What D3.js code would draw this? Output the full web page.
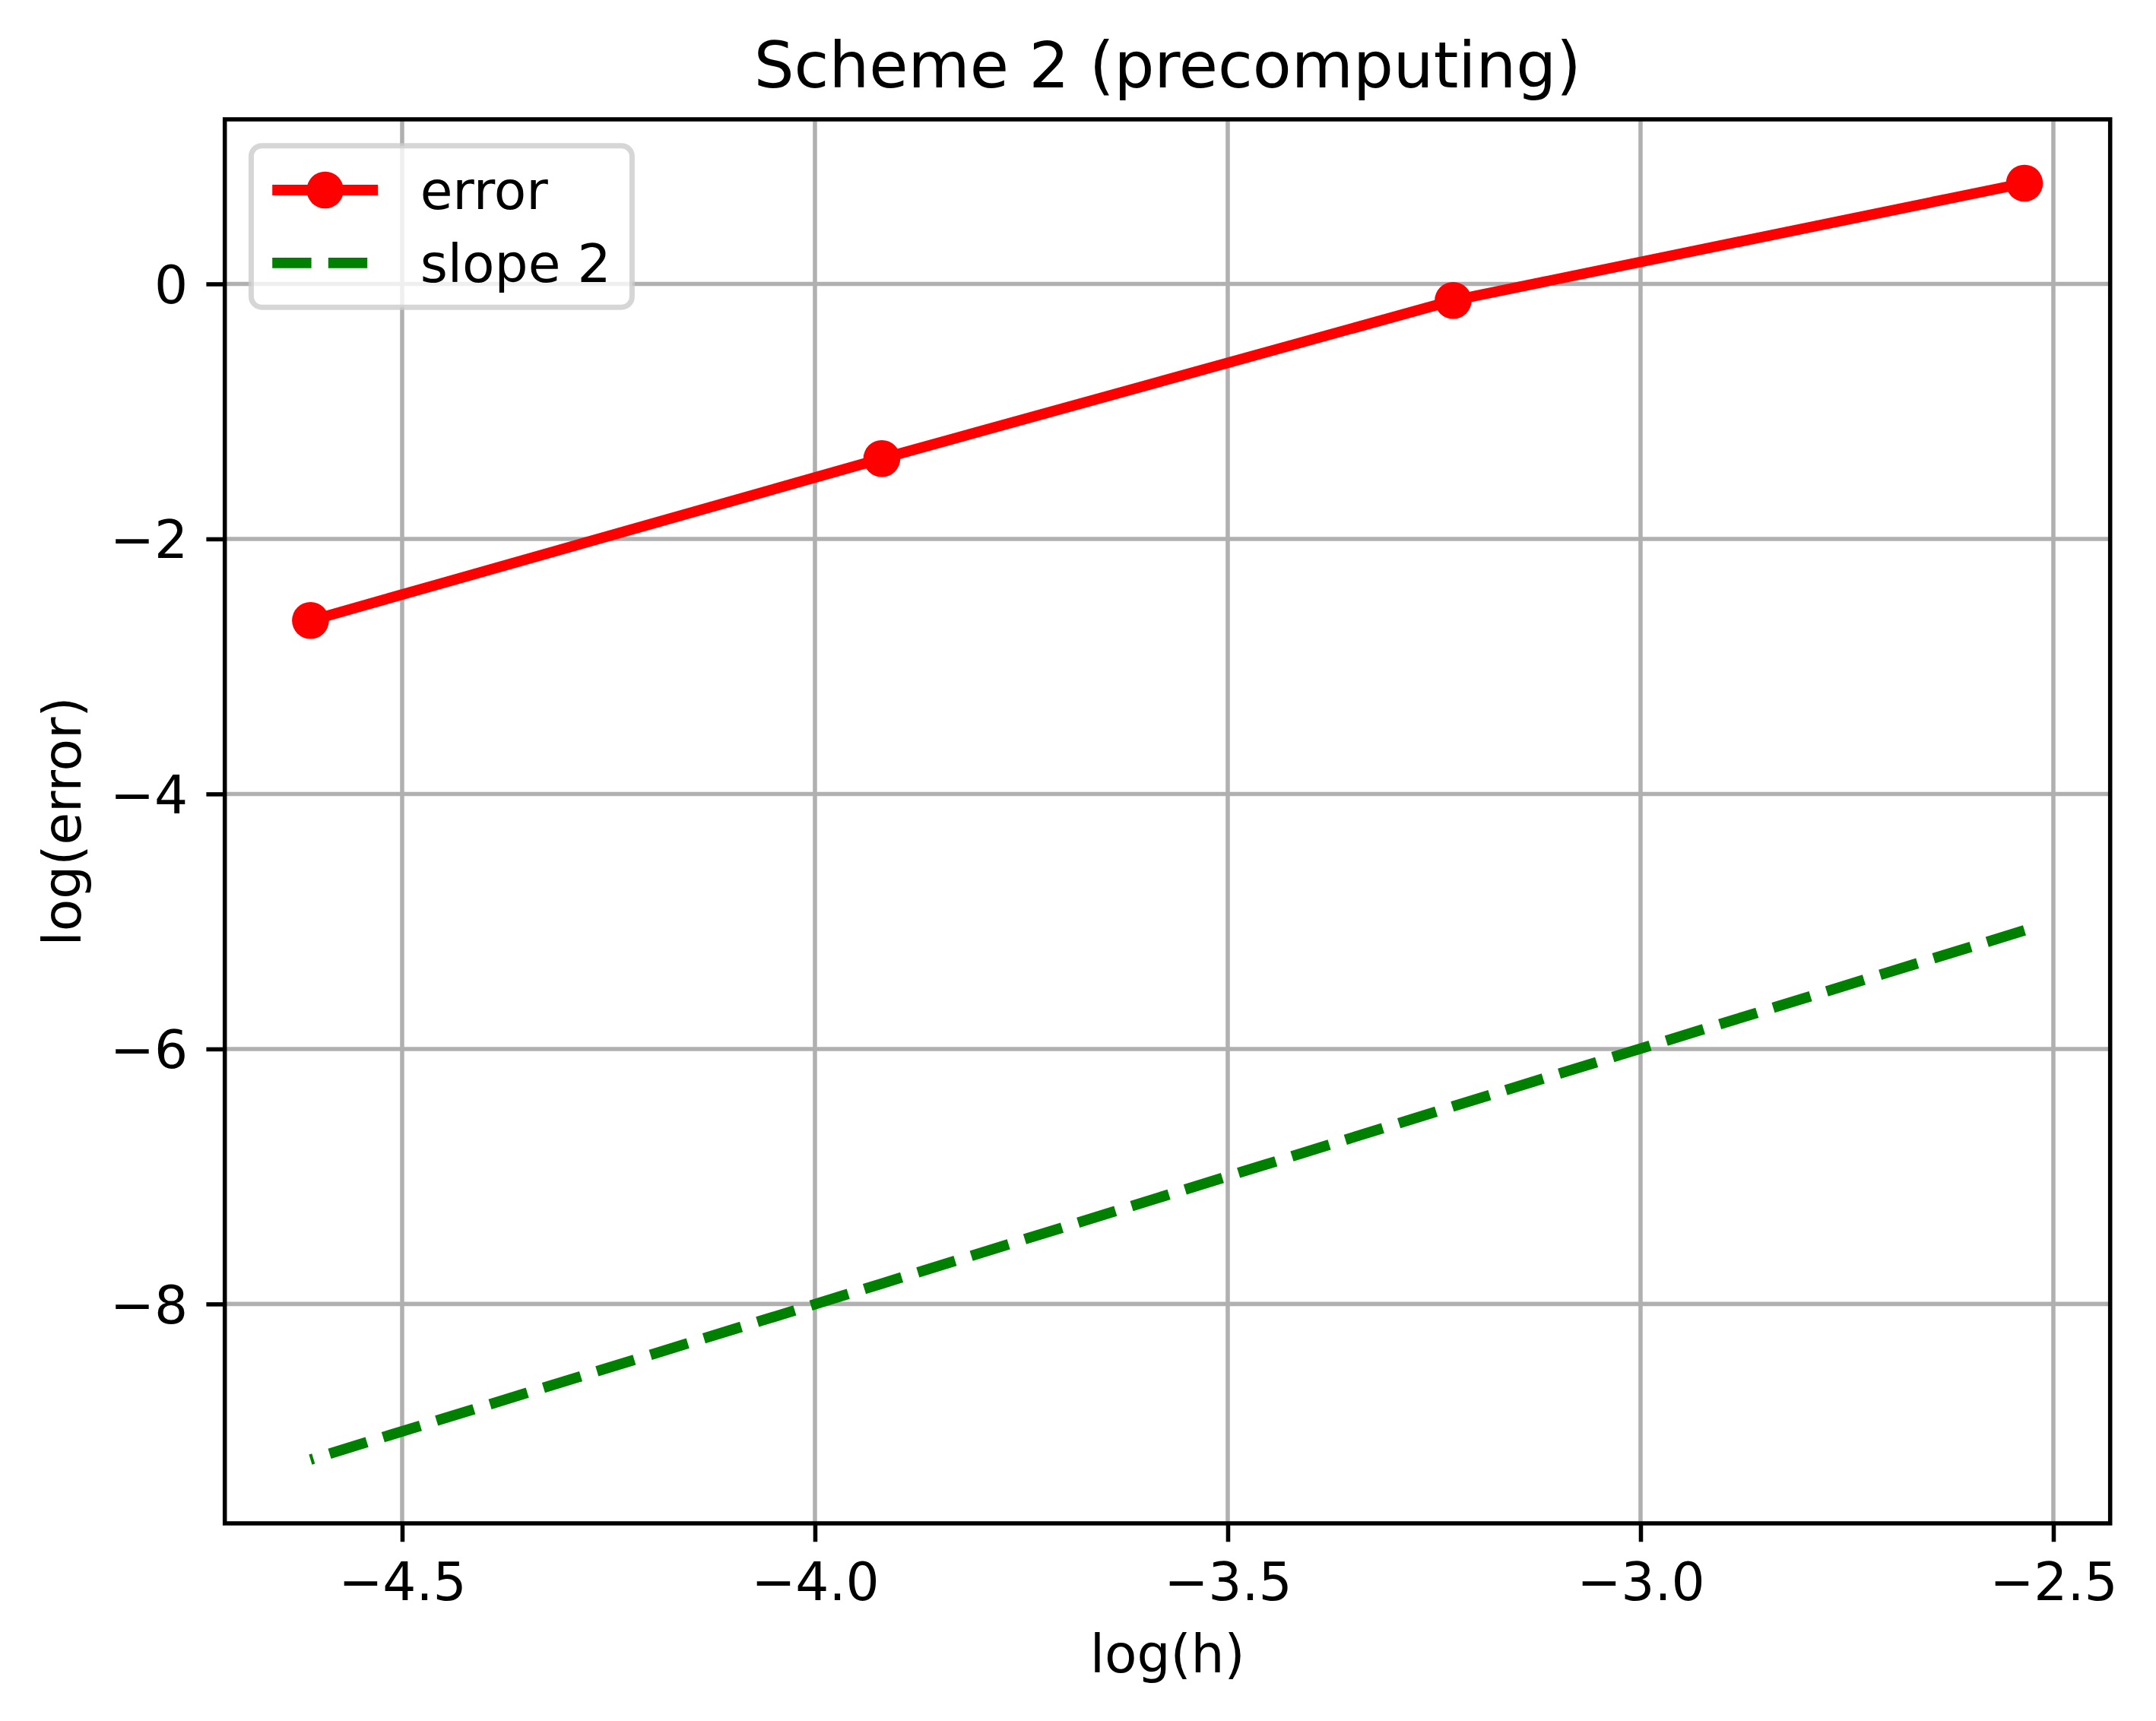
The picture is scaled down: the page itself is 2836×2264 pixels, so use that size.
<!DOCTYPE html>
<html>
<head>
<meta charset="utf-8">
<script src="https://cdn.jsdelivr.net/npm/d3@7"></script>
<style>
  html, body { margin: 0; padding: 0; background: #ffffff; }
  svg { display: block; font-family: "DejaVu Sans", sans-serif; }
</style>
</head>
<body>
<div id="chart"></div>
<script>
// values (h halves each step)
const logH = [-2.535, -3.227, -3.919, -4.611];
const logError = [0.79, -0.13, -1.37, -2.64];
const slopeTwo = [-5.07, -6.45, -7.84, -9.22];
const xTicks = [-4.5, -4.0, -3.5, -3.0, -2.5];
const yTicks = [-8, -6, -4, -2, 0];
const seriesNames = ["error", "slope 2"];

const width = 2836, height = 2264;
const margin = { left: 295.7, right: 2836 - 2775.7, top: 157, bottom: 2264 - 2004 };
const pt = 500 / 72; // figure was 500 dpi
const fontSize = 10 * pt;

const svg = d3.select("#chart")
    .append("svg")
    .attr("width", width)
    .attr("height", height);

// matplotlib style 5% padding on data range
function padded(values) {
    const [lo, hi] = d3.extent(values);
    const m = (hi - lo) * 0.05;
    return [lo - m, hi + m];
}

const x = d3.scaleLinear()
    .domain(padded(logH))
    .range([margin.left, width - margin.right]);
const y = d3.scaleLinear()
    .domain(padded(logError.concat(slopeTwo)))
    .range([height - margin.bottom, margin.top]);

const fmtX = d => d3.format(".1f")(d).replace("-", "\u2212");
const fmtY = d => d3.format("d")(d).replace("-", "\u2212");

// grid
const grid = svg.append("g").attr("stroke", "#b0b0b0").attr("stroke-width", 0.8 * pt);
grid.selectAll(".gx").data(xTicks).join("line")
    .attr("x1", d => x(d)).attr("x2", d => x(d))
    .attr("y1", y.range()[0]).attr("y2", y.range()[1]);
grid.selectAll(".gy").data(yTicks).join("line")
    .attr("y1", d => y(d)).attr("y2", d => y(d))
    .attr("x1", x.range()[0]).attr("x2", x.range()[1]);

// axes
const xAxis = d3.axisBottom(x).tickValues(xTicks).tickFormat(fmtX)
    .tickSize(3.5 * pt).tickPadding(3.5 * pt).tickSizeOuter(0);
const yAxis = d3.axisLeft(y).tickValues(yTicks).tickFormat(fmtY)
    .tickSize(3.5 * pt).tickPadding(3.5 * pt).tickSizeOuter(0);

const gx = svg.append("g")
    .attr("transform", `translate(0,${y.range()[0]})`)
    .call(xAxis);
const gy = svg.append("g")
    .attr("transform", `translate(${x.range()[0]},0)`)
    .call(yAxis);

[gx, gy].forEach(g => {
    g.select(".domain").remove();
    g.selectAll(".tick line").attr("stroke", "#000").attr("stroke-width", 0.8 * pt);
    g.selectAll(".tick text")
        .attr("fill", "#000")
        .attr("font-size", fontSize)
        .attr("font-family", "DejaVu Sans, sans-serif");
});
gx.selectAll(".tick text").attr("dy", null).attr("y", 7 * pt + 0.76 * fontSize);
gy.selectAll(".tick text").attr("dy", "0.36em");

// data lines
const line = d3.line()
    .x(d => x(d[0]))
    .y(d => y(d[1]));

const errorPts = d3.zip(logH, logError);
const slopePts = d3.zip(logH, slopeTwo);

svg.append("path")
    .datum(slopePts)
    .attr("d", line)
    .attr("fill", "none")
    .attr("stroke", "#008000")
    .attr("stroke-width", 2 * pt)
    .attr("stroke-dasharray", `${7.4 * pt},${3.2 * pt}`);

svg.append("path")
    .datum(errorPts)
    .attr("d", line)
    .attr("fill", "none")
    .attr("stroke", "#ff0000")
    .attr("stroke-width", 2 * pt)
    .attr("stroke-linejoin", "round");

svg.append("g").selectAll("circle")
    .data(errorPts)
    .join("circle")
    .attr("cx", d => x(d[0]))
    .attr("cy", d => y(d[1]))
    .attr("r", 3.5 * pt)
    .attr("fill", "#ff0000");

// frame
svg.append("rect")
    .attr("x", x.range()[0])
    .attr("y", y.range()[1])
    .attr("width", x.range()[1] - x.range()[0])
    .attr("height", y.range()[0] - y.range()[1])
    .attr("fill", "none")
    .attr("stroke", "#000")
    .attr("stroke-width", 0.8 * pt);

// labels
svg.append("text")
    .attr("x", (x.range()[0] + x.range()[1]) / 2)
    .attr("y", 115)
    .attr("text-anchor", "middle")
    .attr("font-size", 12 * pt)
    .text("Scheme 2 (precomputing)");

svg.append("text")
    .attr("x", (x.range()[0] + x.range()[1]) / 2)
    .attr("y", 2200)
    .attr("text-anchor", "middle")
    .attr("font-size", fontSize)
    .text("log(h)");

svg.append("text")
    .attr("transform", `translate(106,${(y.range()[0] + y.range()[1]) / 2}) rotate(-90)`)
    .attr("text-anchor", "middle")
    .attr("font-size", fontSize)
    .text("log(error)");

// legend
const lg = svg.append("g");
const lx = x.range()[0] + 0.5 * fontSize;
const ly = y.range()[1] + 0.5 * fontSize;
const frame = lg.append("rect")
    .attr("x", lx)
    .attr("y", ly)
    .attr("rx", 0.2 * fontSize)
    .attr("fill", "#ffffff")
    .attr("fill-opacity", 0.8)
    .attr("stroke", "#cccccc")
    .attr("stroke-opacity", 0.8)
    .attr("stroke-width", 1 * pt);

const hx0 = lx + 0.4 * fontSize;
const hx1 = hx0 + 2 * fontSize;
const rowH = 0.88 * fontSize;
const rowY = i => ly + 0.4 * fontSize + rowH / 2 + i * (rowH + 0.5 * fontSize);

lg.append("line")
    .attr("x1", hx0).attr("x2", hx1)
    .attr("y1", rowY(0)).attr("y2", rowY(0))
    .attr("stroke", "#ff0000").attr("stroke-width", 2 * pt);
lg.append("circle")
    .attr("cx", (hx0 + hx1) / 2).attr("cy", rowY(0))
    .attr("r", 3.5 * pt).attr("fill", "#ff0000");
lg.append("line")
    .attr("x1", hx0).attr("x2", hx1)
    .attr("y1", rowY(1)).attr("y2", rowY(1))
    .attr("stroke", "#008000").attr("stroke-width", 2 * pt)
    .attr("stroke-dasharray", `${7.4 * pt},${3.2 * pt}`);

const labels = lg.selectAll(".lab")
    .data(seriesNames)
    .join("text")
    .attr("x", hx1 + 0.8 * fontSize)
    .attr("y", (d, i) => rowY(i))
    .attr("dy", "0.36em")
    .attr("font-size", fontSize)
    .text(d => d);

let maxW = 0;
labels.each(function () { maxW = Math.max(maxW, this.getComputedTextLength()); });
frame
    .attr("width", hx1 + 0.8 * fontSize + maxW + 0.4 * fontSize - lx)
    .attr("height", rowY(1) + rowH / 2 + 0.4 * fontSize - ly);
</script>
</body>
</html>
